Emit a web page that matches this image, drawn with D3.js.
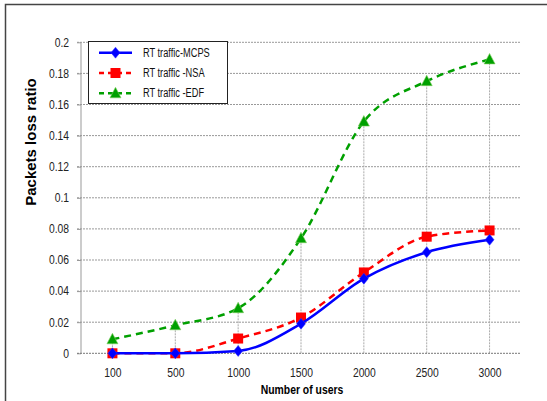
<!DOCTYPE html>
<html>
<head>
<meta charset="utf-8">
<script src="https://cdn.jsdelivr.net/npm/d3@7"></script>
<style>
  body { margin: 0; background: #fff; }
  text { font-family: "Liberation Sans", Arial, sans-serif; }
</style>
</head>
<body>
<div id="chart"></div>
<script>
// values
var users = ["100", "500", "1000", "1500", "2000", "2500", "3000"];
var mcps = [0, 0, 0.0015, 0.019, 0.048, 0.065, 0.073];
var nsa  = [0, 0, 0.0095, 0.023, 0.052, 0.075, 0.079];
var edf  = [0.009, 0.018, 0.029, 0.074, 0.149, 0.175, 0.189];
var yTicks = [0, 0.02, 0.04, 0.06, 0.08, 0.1, 0.12, 0.14, 0.16, 0.18, 0.2];
var seriesNames = ["RT traffic-MCPS", "RT traffic -NSA", "RT traffic -EDF"];

width = 547
height = 401

var series = [
  {name: seriesNames[0], values: mcps, color: "#0000ff", dash: null, marker: "diamond"},
  {name: seriesNames[1], values: nsa, color: "#ff0000", dash: "7,5", marker: "square"},
  {name: seriesNames[2], values: edf, color: "#00a000", dash: "7,5", marker: "triangle"}
]

// the original uses a narrow face; squeeze the text horizontally
function narrow(sel, k) {
  sel.each(function () {
    var len = this.getComputedTextLength()
    d3.select(this).attr('textLength', len * k).attr('lengthAdjust', 'spacingAndGlyphs')
  })
}

var svg = d3.select('#chart').append('svg').attr('width', width).attr('height', height)

// frame of the original figure
svg.append('path').attr('d', 'M5.5,' + height + 'V4.5H' + width)
  .attr('fill', 'none').attr('stroke', '#444').attr('stroke-width', 1.5)

var x = d3.scalePoint().domain(users).range([81, 521]).padding(0.5)
var y = d3.scaleLinear().domain([0, 0.2]).range([353.3, 42.3])

// horizontal grid
svg.append('g').selectAll('line').data(yTicks.slice(1)).join('line')
  .attr('x1', 77).attr('x2', 521)
  .attr('y1', d => y(d)).attr('y2', d => y(d))
  .attr('stroke', '#999').attr('stroke-dasharray', '2,1')

// drop lines from the highest point down to the axis
var maxAt = users.map((u, i) => d3.max(series, s => s.values[i]))
svg.append('g').selectAll('line').data(users).join('line')
  .attr('x1', d => x(d)).attr('x2', d => x(d))
  .attr('y1', y(0)).attr('y2', (d, i) => y(maxAt[i]))
  .attr('stroke', '#aaa').attr('stroke-dasharray', '2,1')

// y axis
var yAxis = svg.append('g').attr('transform', 'translate(81,0)')
  .call(d3.axisLeft(y).tickValues(yTicks).tickSize(4).tickPadding(8)
    .tickFormat(d => d === 0 ? "0" : d3.format("")(+d.toFixed(2))))
yAxis.select('.domain').attr('stroke', '#999').attr('d', 'M0,' + y(0) + 'V' + y(0.2))
yAxis.selectAll('line').attr('stroke', '#999')
yAxis.selectAll('text').attr('font-size', 12).attr('fill', '#222')
  .style('font-family', '"Liberation Sans", Arial, sans-serif').call(narrow, 0.86)

// x axis
svg.append('line').attr('x1', 77).attr('x2', 521).attr('y1', y(0)).attr('y2', y(0))
  .attr('stroke', '#777').attr('stroke-dasharray', '2,1')
var xAxis = svg.append('g').attr('transform', 'translate(0,' + y(0) + ')')
  .call(d3.axisBottom(x).tickSize(0).tickPadding(15))
xAxis.select('.domain').remove()
xAxis.selectAll('text').attr('font-size', 12).attr('fill', '#222')
  .style('font-family', '"Liberation Sans", Arial, sans-serif').call(narrow, 0.86)

// axis titles
svg.append('text').attr('x', 302).attr('y', 394).attr('text-anchor', 'middle')
  .attr('font-size', 13).attr('font-weight', 'bold').text('Number of users').call(narrow, 0.8)
svg.append('text').attr('transform', 'translate(36,142) rotate(-90)').attr('text-anchor', 'middle')
  .attr('font-size', 15).attr('font-weight', 'bold')
  .text('Packets loss ratio')

var line = d3.line().x((d, i) => x(users[i])).y(d => y(d)).curve(d3.curveMonotoneX)

function marker(g, type, color) {
  if (type == 'diamond')
    g.append('path').attr('d', 'M0,-5.5L4.5,0L0,5.5L-4.5,0Z').attr('fill', color).attr('stroke', '#3333ff').attr('stroke-width', 0.5)
  else if (type == 'square')
    g.append('rect').attr('x', -5).attr('y', -5).attr('width', 10).attr('height', 10).attr('fill', color)
  else
    g.append('path').attr('d', 'M0,-6L5.5,4.5L-5.5,4.5Z').attr('fill', color).attr('stroke', '#7fcf5f').attr('stroke-width', 0.6)
}

series.slice().reverse().forEach(function (s) {
  svg.append('path').datum(s.values).attr('d', line)
    .attr('fill', 'none').attr('stroke', s.color).attr('stroke-width', 2.5)
    .attr('stroke-dasharray', s.dash)
  s.values.forEach(function (v, i) {
    var g = svg.append('g').attr('transform', 'translate(' + x(users[i]) + ',' + y(v) + ')')
    marker(g, s.marker, s.color)
  })
})

// legend
var legend = svg.append('g')
legend.append('rect').attr('x', 88.5).attr('y', 41.5).attr('width', 139).attr('height', 62)
  .attr('fill', '#fff').attr('stroke', '#222').attr('stroke-width', 1)
series.forEach(function (s, i) {
  var ly = 52.7 + i * 20.3
  legend.append('line').attr('x1', 99).attr('x2', 132).attr('y1', ly).attr('y2', ly)
    .attr('stroke', s.color).attr('stroke-width', 2.5).attr('stroke-dasharray', s.dash ? '5,4' : null)
  var g = legend.append('g').attr('transform', 'translate(115.5,' + ly + ')')
  marker(g, s.marker, s.color)
  legend.append('text').attr('x', 143).attr('y', ly + 4).attr('font-size', 12).attr('fill', '#111')
    .text(s.name).call(narrow, 0.77)
})
</script>
</body>
</html>
